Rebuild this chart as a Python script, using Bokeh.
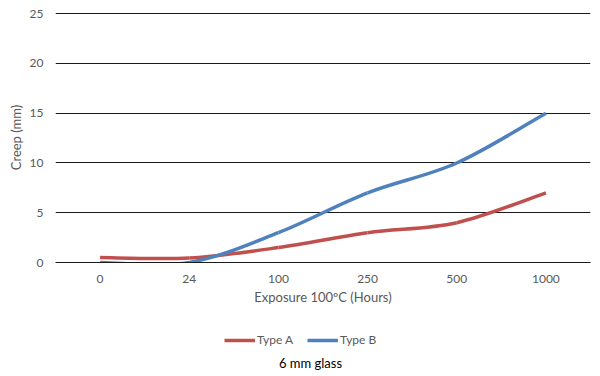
from bokeh.plotting import figure
from bokeh.models import FixedTicker, Legend, LegendItem, Range1d, Label
from bokeh.layouts import column
from bokeh.embed import file_html
from bokeh.resources import INLINE

categories = ["0", "24", "100", "250", "500", "1000"]
series_names = ["Type A", "Type B"]
type_a = [0.5, 0.45, 1.5, 3.0, 4.0, 7.0]
type_b = [0.0, 0.0, 3.0, 7.0, 10.0, 15.0]
y_ticks = [0, 5, 10, 15, 20, 25]
colors = ["#C0504D", "#4F81BD"]

FONT = "Lato"
GRAY = "#595959"


def smooth_segments(vals):
    xs = list(range(len(vals)))
    n = len(vals)
    out = dict(x0=[], y0=[], x1=[], y1=[], cx0=[], cy0=[], cx1=[], cy1=[])
    for i in range(n - 1):
        a = i - 1 if i > 0 else i
        d = i + 2 if i + 2 < n else i + 1
        out["x0"].append(xs[i]); out["y0"].append(vals[i])
        out["x1"].append(xs[i + 1]); out["y1"].append(vals[i + 1])
        out["cx0"].append(xs[i] + (xs[i + 1] - xs[a]) / 6)
        out["cy0"].append(vals[i] + (vals[i + 1] - vals[a]) / 6)
        out["cx1"].append(xs[i + 1] - (xs[d] - xs[i]) / 6)
        out["cy1"].append(vals[i + 1] - (vals[d] - vals[i]) / 6)
    return out


p = figure(width=600, height=318, output_backend="svg", toolbar_location=None,
           x_range=Range1d(-0.5, len(categories) - 0.5), y_range=Range1d(0, 25.12))
p.min_border_left = 55
p.min_border_right = 10
p.min_border_top = 12
p.min_border_bottom = 56
p.outline_line_color = None
p.background_fill_color = "white"
p.border_fill_color = "white"

for vals, col in zip([type_a, type_b], colors):
    p.bezier(source=smooth_segments(vals), x0="x0", y0="y0", x1="x1", y1="y1",
             cx0="cx0", cy0="cy0", cx1="cx1", cy1="cy1",
             line_color=col, line_width=3.5)

# x axis
xa = p.xaxis[0]
xa.ticker = FixedTicker(ticks=list(range(len(categories))))
xa.major_label_overrides = {i: c for i, c in enumerate(categories)}
xa.axis_line_color = "#1a1a1a"
xa.axis_line_width = 1
xa.major_tick_line_color = None
xa.minor_tick_line_color = None
xa.major_tick_out = 0
xa.major_tick_in = 0
xa.major_label_text_font = FONT
xa.major_label_text_font_size = "12px"
xa.major_label_text_color = GRAY
xa.major_label_standoff = 12
xa.axis_label = "Exposure 100ºC (Hours)"
xa.axis_label_text_font = FONT
xa.axis_label_text_font_style = "normal"
xa.axis_label_text_font_size = "13px"
xa.axis_label_text_color = GRAY
xa.axis_label_standoff = 3

# y axis
ya = p.yaxis[0]
ya.ticker = FixedTicker(ticks=y_ticks)
ya.axis_line_color = None
ya.major_tick_line_color = None
ya.minor_tick_line_color = None
ya.major_tick_out = 0
ya.major_tick_in = 0
ya.major_label_text_font = FONT
ya.major_label_text_font_size = "12px"
ya.major_label_text_color = GRAY
ya.major_label_standoff = 12
ya.axis_label = "Creep (mm)"
ya.axis_label_text_font = FONT
ya.axis_label_text_font_style = "normal"
ya.axis_label_text_font_size = "13px"
ya.axis_label_text_color = GRAY
ya.axis_label_standoff = 3

p.xgrid.grid_line_color = None
p.ygrid.ticker = FixedTicker(ticks=y_ticks)
p.ygrid.grid_line_color = "#1a1a1a"
p.ygrid.grid_line_width = 1

# legend + caption strip (series drawn out of view; only their legend samples show)
q = figure(width=600, height=58, output_backend="svg", toolbar_location=None,
           x_axis_type=None, y_axis_type=None,
           x_range=Range1d(0, 1), y_range=Range1d(1000, 1001))
q.min_border = 0
q.outline_line_color = None
q.xgrid.visible = False
q.ygrid.visible = False

items = []
for name, vals, col in zip(series_names, [type_a, type_b], colors):
    r = q.line(x=list(range(len(vals))), y=vals, line_color=col, line_width=3.5)
    items.append(LegendItem(label=name, renderers=[r]))

legend = Legend(items=items, orientation="horizontal", location=(169, 29),
                glyph_width=31, glyph_height=14, label_standoff=2, spacing=14,
                padding=0, margin=0, border_line_color=None,
                background_fill_alpha=0,
                label_text_font=FONT, label_text_font_size="12px",
                label_text_color=GRAY)
q.add_layout(legend, "center")

q.add_layout(Label(x=255, y=14, x_units="screen", y_units="screen",
                   text="6 mm glass", text_align="center", text_baseline="middle",
                   text_font=FONT, text_font_size="13px", text_color="black"))

layout = column(p, q, spacing=0)
open("out.html", "w").write(file_html(layout, INLINE))
